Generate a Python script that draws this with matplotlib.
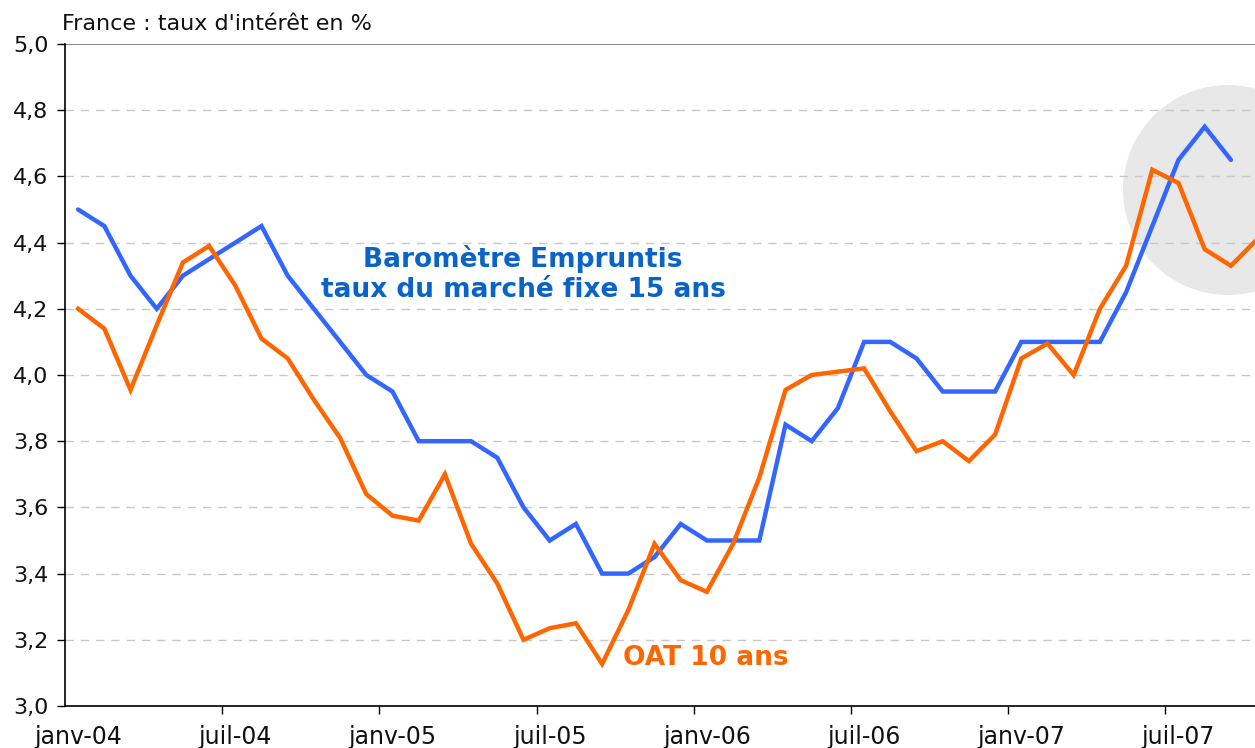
import matplotlib
matplotlib.use("Agg")
import matplotlib.pyplot as plt
from matplotlib.patches import Ellipse

# ---- data ----
tick_labels = ["janv-04", "juil-04", "janv-05", "juil-05",
               "janv-06", "juil-06", "janv-07", "juil-07"]

barometre = [4.50, 4.45, 4.30, 4.20, 4.30, 4.35, 4.40, 4.45, 4.30, 4.20,
             4.10, 4.00, 3.95, 3.80, 3.80, 3.80, 3.75, 3.60, 3.50, 3.55,
             3.40, 3.40, 3.45, 3.55, 3.50, 3.50, 3.50, 3.85, 3.80, 3.90,
             4.10, 4.10, 4.05, 3.95, 3.95, 3.95, 4.10, 4.10, 4.10, 4.10,
             4.25, 4.45, 4.65, 4.75, 4.65]

oat10 = [4.20, 4.14, 3.955, 4.15, 4.34, 4.39, 4.27, 4.11, 4.05, 3.925,
         3.81, 3.64, 3.575, 3.56, 3.70, 3.49, 3.37, 3.20, 3.235, 3.25,
         3.127, 3.29, 3.49, 3.38, 3.345, 3.49, 3.69, 3.955, 4.00, 4.01,
         4.02, 3.89, 3.77, 3.80, 3.74, 3.82, 4.05, 4.095, 4.00, 4.20,
         4.33, 4.62, 4.58, 4.38, 4.33, 4.41]

yticks = [3.0, 3.2, 3.4, 3.6, 3.8, 4.0, 4.2, 4.4, 4.6, 4.8, 5.0]

BLUE = "#3366FF"
BLUE_TXT = "#0A64C8"
ORANGE = "#FF6600"

W, H = 1255, 748
fig = plt.figure(figsize=(W / 100, H / 100), dpi=100)
left_px, right_px, top_px, bot_px = 65, 1255, 44, 706
ax = fig.add_axes([left_px / W, 1 - bot_px / H, (right_px - left_px) / W,
                   (bot_px - top_px) / H])

step = 26.2
ypx = (bot_px - top_px) / 2.0
ax.set_xlim(-0.5, -0.5 + (right_px - left_px) / step)
ax.set_ylim(3.0, 5.0)

# highlight circle
cx_px, cy_px, r_px = 1228, 190, 105
cx = -0.5 + (cx_px - left_px) / step
cy = 5.0 - (cy_px - top_px) / ypx
ell = Ellipse((cx, cy), width=2 * r_px / step, height=2 * r_px / ypx,
              facecolor="#E8E8E8", edgecolor="none", zorder=0.5)
ax.add_patch(ell)

# gridlines
for v in yticks[1:-1]:
    ax.axhline(v, color="#C8C8C8", lw=1.0, ls=(0, (6, 5)), zorder=0.8)
ax.axhline(5.0, color="#7A7A7A", lw=1.3, zorder=0.8)

ax.plot(range(len(barometre)), barometre, color=BLUE, lw=3.2,
        solid_joinstyle="miter", solid_capstyle="round", zorder=3)
ax.plot(range(len(oat10)), oat10, color=ORANGE, lw=3.2,
        solid_joinstyle="miter", zorder=3)

# axes styling
for s in ["top", "right"]:
    ax.spines[s].set_visible(False)
ax.spines["left"].set_color("black")
ax.spines["bottom"].set_color("black")
ax.spines["left"].set_linewidth(1.2)
ax.spines["bottom"].set_linewidth(1.2)

ax.set_yticks(yticks)
ax.set_yticklabels([f"{v:.1f}".replace(".", ",") for v in yticks],
                   fontsize=16, color="#111111")
ax.tick_params(axis="y", length=6, width=1, pad=6, direction="out")

major = [-0.5 + 6 * k for k in range(1, 8)]
ax.set_xticks(major)
ax.set_xticklabels([])
ax.set_xticks([6 * k for k in range(len(tick_labels))], minor=True)
ax.set_xticklabels(tick_labels, minor=True, fontsize=17, color="#111111")
ax.tick_params(axis="x", which="major", length=6, width=1, direction="out")
ax.tick_params(axis="x", which="minor", length=0, pad=14)

fig.text(62 / W, 1 - 24 / H, "France : taux d'intérêt en %", fontsize=16,
         color="#111111", ha="left", va="center")

ax.text(-0.5 + (523 - left_px) / step, 5.0 - (274 - top_px) / ypx,
        "Baromètre Empruntis\ntaux du marché fixe 15 ans",
        fontsize=19, fontweight="bold", color=BLUE_TXT, ha="center", va="center",
        linespacing=1.2, zorder=4)
ax.text(-0.5 + (706 - left_px) / step, 5.0 - (658 - top_px) / ypx,
        "OAT 10 ans", fontsize=19, fontweight="bold", color=ORANGE,
        ha="center", va="center", zorder=4)

fig.savefig("out.png", dpi=100)
